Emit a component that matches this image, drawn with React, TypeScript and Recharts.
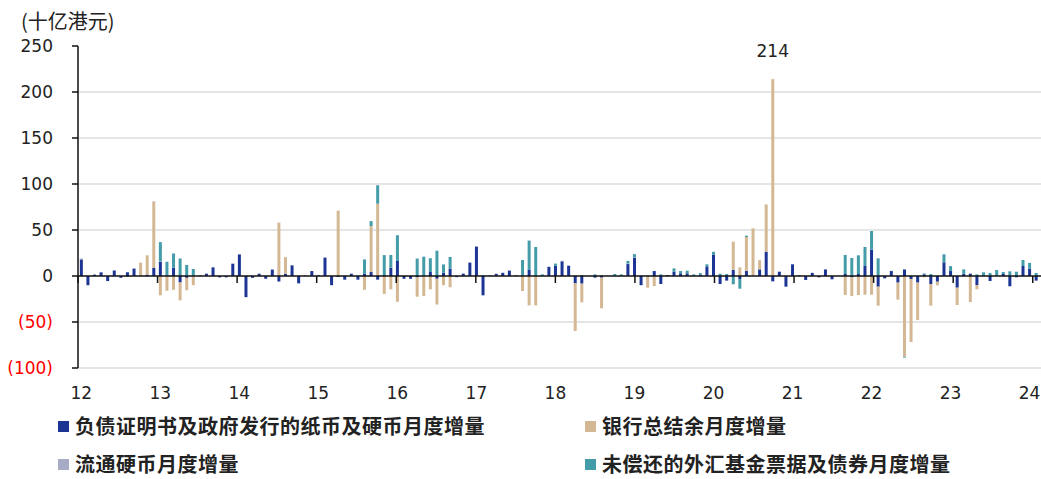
import { BarChart, Bar, XAxis, YAxis, CartesianGrid, ReferenceLine, LabelList } from 'recharts';

const years = ['12', '13', '14', '15', '16', '17', '18', '19', '20', '21', '22', '23', '24'];
const monthsInLastYear = 3;

// 负债证明书及政府发行的纸币及硬币月度增量 (HK$ bn), Jan 2012 - Mar 2024
const certificates = [
  18, -10, 1.5, 4, -5.5, 6, -2, 4, 8, 0.5, 1.5, 9,
  15.5, 0.5, 9, -7, -2, 0, 0.5, 2.5, 9.4, -1.5, -1.5, 13.4,
  23.5, -23, -2, 2.5, -3, 7, -6, 2.5, 11.6, -8, 0.3, 5.4,
  0, 20, -10, -1, -4, 2.5, -4, 2.5, 4.3, -4, 1, 9,
  16.3, -3, -3, -1.5, 0, 4.3, -3, 3.6, 8, -1, 2.5, 14.5,
  32, -21, 0, 2.2, 3.3, 5.8, 0.7, 0.7, 6.5, 0, 0, 9.8,
  11, 16, 11.2, -8, -8.3, 0, -1.8, -1.8, 0, 0, 0, 13,
  20, -10, 0, 5.4, -8.7, 1, 4.7, 2.9, 2.9, 0, 1.4, 10.5,
  23, -8.7, -5, 6.5, -3.3, 5.4, 0, 7.2, 26.4, -5.8, 4.7, -11.6,
  12.7, 0.7, -4.3, 3.3, -1.4, 7.2, -3.6, 0, 2.2, -1.4, 2.2, 10.9,
  28.6, -11.6, -2.5, 5.4, -7.2, 7.2, -3.3, -7.2, 1.8, -8.7, -6.2, 14.9,
  5.4, -12.7, 2.5, 2.5, -9.8, 0, -5.4, 0, 2.2, -11.2, -1.4, 10.9,
  8, -5, 0,
];

// 银行总结余月度增量
const balance = [
  0, 0, 0, 0, 0, 0, 0, 0, 0, 14, 21, 72,
  -21, -16, -15, -19.5, -13.5, -10, 0, 0, 0, 0, 0, 0,
  0, 0, 0, 0, 0, 0, 58, 18, 0, 0, 0, 0,
  0, 0, 0, 71, 0, 0, 0, -15, 50, 78.6, -19.5, -14.5,
  -28, 0, 0, -21, -21.7, -14.5, -28, -10, -12.3, 0, 0, 0,
  0, 0, 0, 0, 0, 0, 0, -16.3, -32, -32, 0, 0,
  0, 0, 0, -51.8, -20.3, 0, 0, -33.3, 0, 0, 0, 0,
  0, 0, -12.7, -11, 0, 0, 0, 0, 0, 0, 0, 0,
  0, 0, 0, 30.8, 9.4, 37, 51.8, 10, 51.4, 214, 0, 0,
  0, 0, 0, 0, 0, 0, 0, 0, -20.7, -20.3, -20.7, -20.3,
  -20.3, -20.7, 0, 0, -18.5, -87.7, -68.5, -40.6, -1.4, -23.5, -4, 0,
  0, -18.8, 0, -28.3, -4.7, 0, 0, 0, 0, 0, 0, 0,
  0, 0, 0,
];

// 流通硬币月度增量
const coins = [
  1, 0, 0.2, 0, 0, 0.2, 0, 0, 0.5, 0, 0, 0.2,
  0.3, 0, 0, 0, 0, 0, 0.5, 0, 0, 0, 0, 0.2,
  0.2, 0, 0, 0, 0, 0, 0, 0, 0.3, 0, 0.5, 0,
  0, 0.3, 0, 0, 0, 0, 0, 0, 0, 0, 0, 0,
  0, 0, 0, 0, 0, 0, 0, 0, 0, -0.5, 0.5, 0.5,
  0.5, 0, 0, 0.5, 0.5, 0.5, 0, 0, 0, 0, 0, 0.5,
  0, 0.5, 0, 0, 0, 0.3, 0, 0, 0.3, 0, 0, 0.5,
  0.5, 0, 0, 0, 0, 0, 0, 0, 0, 0, 0, 0,
  0, 0, 0, 0, 0, 0, 0, 0, 0, 0, 0, 0,
  0, 0, 0, 0.3, -0.5, 0.3, 0, 0, 0, 0, 0, 0,
  0, 0, -0.5, 0.3, 0, 0.3, 0, 0, 0, 0, 0, 0,
  0, 0, 0, 0.3, 0, 0, 0, 0, 0, 0, 0, 0,
  0, 0, 0,
];

// 未偿还的外汇基金票据及债券月度增量
const efbn = [
  0, 0, 0, 0, 0, 0, 0, -1, 0, 0, 0, 0,
  21, 15, 15.5, 19, 12, 7.6, 0, 0, 0, 0, 0, 0,
  0, 0, 0, 0, 0, 0, 0, 0, 0, 0, 0, 0,
  1, 0, 0, 0, 0, 0, 0, 15.5, 5.4, 20, 21.7, 13.8,
  28, 0, 0, 19, 21, 15, 27.5, 9, 12.7, 0, 0, 0,
  0, 0.7, 0.7, 0, 0, 0, 0, 16.7, 32, 31.5, 1.8, 0,
  2.5, 0, 0, 0, 1, 0, 1.8, 0.7, 0, 2.2, 1.8, 2.9,
  3.3, 0.5, 0.5, 0, 1.8, 0, 3.6, 2.5, 2.9, 1.8, 1.8, 2.2,
  3.3, 2.5, 2.2, -9, -10.5, 1.4, 0, 0, 0, 0, 0, 0,
  0, 0, 0, 0, 0, 0, 0, 0, 20.7, 19.6, 20.3, 20.7,
  20.3, 19.2, 0, 0, 0, -1, 0, 0, 1, 2.2, 0, 8.7,
  5.4, 0, 4.7, 0, 1.8, 4, 3.3, 6.5, 2.2, 5.1, 4.7, 6.5,
  6.2, 3.3, 5,
];

const yTicks = [-100, -50, 0, 50, 100, 150, 200, 250];

const series = [
  { key: 'cert', name: '负债证明书及政府发行的纸币及硬币月度增量', color: '#1c3595' },
  { key: 'bal', name: '银行总结余月度增量', color: '#d4b894' },
  { key: 'coin', name: '流通硬币月度增量', color: '#a7abc6' },
  { key: 'efbn', name: '未偿还的外汇基金票据及债券月度增量', color: '#449ca9' },
];

const months: { year: string; month: number }[] = [];
years.forEach((y, i) => {
  const n = i === years.length - 1 ? monthsInLastYear : 12;
  for (let m = 1; m <= n; m++) months.push({ year: y, month: m });
});

const data = months.map((d, i) => ({
  m: `${d.year}-${d.month}`,
  cert: certificates[i],
  bal: balance[i],
  coin: coins[i],
  efbn: efbn[i],
}));

const yearStarts = months.map((d, i) => (d.month === 1 ? i : -1)).filter((i) => i >= 0);

const NUM_FONT = '"DejaVu Sans", sans-serif';
const CJK_FONT = '"Noto Sans CJK SC", sans-serif';

function YTick(props: any) {
  const { x, y, payload } = props;
  const v = payload.value as number;
  return (
    <text x={x} y={y} textAnchor="end" dominantBaseline="central" fontSize={17}
      fontFamily={NUM_FONT} fill={v < 0 ? '#ff0000' : '#222'}>
      {v < 0 ? `(${Math.abs(v)})` : v}
    </text>
  );
}

function XTick(props: any) {
  const { x, y, payload } = props;
  const [yr, mo] = String(payload.value).split('-');
  if (mo !== '1') return null;
  return (
    <text x={x} y={y} textAnchor="middle" dominantBaseline="central" fontSize={17}
      fontFamily={NUM_FONT} fill="#222">
      {yr}
    </text>
  );
}

function PeakLabel(props: any) {
  const { x, y, width, value } = props;
  if (value < 200) return null;
  return (
    <text x={x + width / 2} y={y - 22} textAnchor="middle" fontSize={17}
      fontFamily={NUM_FONT} fill="#222">
      {value}
    </text>
  );
}

export default function App() {
  return (
    <div style={{ position: 'fixed', left: 0, top: 0, width: 1041, height: 479, overflow: 'hidden', background: '#fff' }}>
      <div style={{ position: 'absolute', left: 21, top: 6, fontFamily: CJK_FONT, fontSize: 20, color: '#222' }}>
        (十亿港元)
      </div>
      <BarChart
        width={1046}
        height={479}
        data={data}
        stackOffset="sign"
        barCategoryGap="28%"
        margin={{ top: 46, right: 0, bottom: 81, left: 0 }}
      >
        <CartesianGrid vertical={false} stroke="#dcdcdc" strokeWidth={1.5}
          horizontalValues={[-100, -50, 50, 100, 150, 200]} />
        <XAxis dataKey="m" interval={0} axisLine={false} tickLine={false}
          tickSize={6} tickMargin={19} height={30} tick={<XTick />} />
        <XAxis xAxisId="n" type="number" domain={[0, months.length]} hide />
        <YAxis domain={[-100, 250]} ticks={yTicks} width={78} interval={0}
          axisLine={{ stroke: '#111', strokeWidth: 1.5 }} tickLine={{ stroke: '#111', strokeWidth: 1.5 }}
          tickSize={6} tickMargin={19} tick={<YTick />} />
        {series.map((s) => (
          <Bar key={s.key} dataKey={s.key} name={s.name} stackId="a" fill={s.color}
            isAnimationActive={false}>
            {s.key === 'bal' && <LabelList dataKey="bal" content={<PeakLabel />} />}
          </Bar>
        ))}
        <ReferenceLine y={0} stroke="#111" strokeWidth={1.5} />
        {yearStarts.map((i) => (
          <ReferenceLine key={i} xAxisId="n" segment={[{ x: i, y: 0 }, { x: i, y: -7.6 }]}
            stroke="#111" strokeWidth={1.5} />
        ))}
      </BarChart>
      {series.map((s, i) => (
        <div key={s.key} style={{
          position: 'absolute',
          left: i % 2 === 0 ? 58 : 585,
          top: i < 2 ? 415 : 453,
          display: 'flex', alignItems: 'center',
          fontFamily: CJK_FONT, fontSize: 20, letterSpacing: 0.5, fontWeight: 'bold', color: '#222',
          lineHeight: '22px',
        }}>
          <span style={{ display: 'inline-block', width: 11, height: 11, background: s.color, marginRight: 6 }} />
          {s.name}
        </div>
      ))}
    </div>
  );
}
